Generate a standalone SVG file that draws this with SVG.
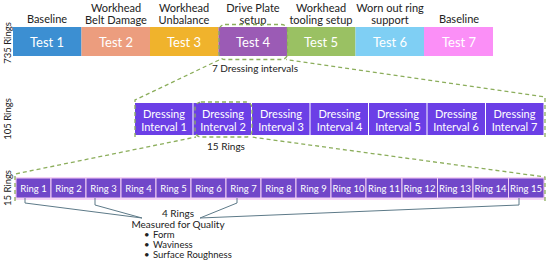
<svg xmlns="http://www.w3.org/2000/svg" width="550" height="260" viewBox="0 0 550 260">
<style>
text{font-family:Lato,"Open Sans","Liberation Sans",sans-serif;text-anchor:middle;dominant-baseline:central}
.lbl{font-size:11px;fill:#222}
.test{font-size:13px;fill:#fff}
.di rect{fill:#6b3fe6}
.di text{font-size:11px;fill:#fff}
.ring rect{fill:#7147c9;stroke:#f3d0f3;stroke-width:1}
.ring text{font-size:9.5px;fill:#fff}
.dash{fill:none;stroke:#8cae5c;stroke-width:1.3;stroke-dasharray:4 3}
.conn{fill:none;stroke:#5d7a88;stroke-width:1}
.ax{font-size:9.5px;fill:#222}
.sm{font-size:10px;fill:#222}
.bl{font-size:9.5px;fill:#222;text-anchor:start}
</style>
<g id="axis-labels">
<text class="ax" transform="translate(7,43) rotate(-90)">735 Rings</text>
<text class="ax" transform="translate(7,119) rotate(-90)">105 Rings</text>
<text class="ax" transform="translate(7,188) rotate(-90)">15 Rings</text>
</g>
<g id="test1"><rect x="13" y="27" width="68.5" height="29" fill="#3c8fd2"/><text class="test" x="47" y="41.5">Test 1</text><text class="lbl" x="47" y="18">Baseline</text></g>
<g id="test2"><rect x="81.5" y="27" width="68.5" height="29" fill="#ec9d7e"/><text class="test" x="116" y="41.5">Test 2</text><text class="lbl" x="116" y="7">Workhead</text><text class="lbl" x="116" y="19">Belt Damage</text></g>
<g id="test3"><rect x="150" y="27" width="68.5" height="29" fill="#f0b32c"/><text class="test" x="184" y="41.5">Test 3</text><text class="lbl" x="184" y="7">Workhead</text><text class="lbl" x="184" y="19">Unbalance</text></g>
<g id="test4"><rect x="218.5" y="27" width="68.5" height="29" fill="#9b5bb5"/><text class="test" x="253" y="41.5">Test 4</text><text class="lbl" x="253" y="7">Drive Plate</text><text class="lbl" x="253" y="19">setup</text></g>
<g id="test5"><rect x="287" y="27" width="68.5" height="29" fill="#9ac163"/><text class="test" x="321" y="41.5">Test 5</text><text class="lbl" x="321" y="7">Workhead</text><text class="lbl" x="321" y="19">tooling setup</text></g>
<g id="test6"><rect x="355.5" y="27" width="68.5" height="29" fill="#7fcff4"/><text class="test" x="390" y="41.5">Test 6</text><text class="lbl" x="390" y="7">Worn out ring</text><text class="lbl" x="390" y="19">support</text></g>
<g id="test7"><rect x="424" y="27" width="69" height="29" fill="#fb8ff7"/><text class="test" x="459" y="41.5">Test 7</text><text class="lbl" x="459" y="18">Baseline</text></g>
<g id="dressing" class="di">
<g id="di1"><rect x="135" y="103" width="57.5" height="32"/><text x="164" y="113">Dressing</text><text x="164" y="126">Interval 1</text></g>
<g id="di2"><rect x="193.5" y="103" width="57.5" height="32"/><text x="223" y="113">Dressing</text><text x="223" y="126">Interval 2</text></g>
<g id="di3"><rect x="252" y="103" width="57.5" height="32"/><text x="281" y="113">Dressing</text><text x="281" y="126">Interval 3</text></g>
<g id="di4"><rect x="310.5" y="103" width="57.5" height="32"/><text x="339.5" y="113">Dressing</text><text x="339.5" y="126">Interval 4</text></g>
<g id="di5"><rect x="369" y="103" width="57.5" height="32"/><text x="398" y="113">Dressing</text><text x="398" y="126">Interval 5</text></g>
<g id="di6"><rect x="427.5" y="103" width="57.5" height="32"/><text x="456" y="113">Dressing</text><text x="456" y="126">Interval 6</text></g>
<g id="di7"><rect x="486" y="103" width="57.5" height="32"/><text x="514.5" y="113">Dressing</text><text x="514.5" y="126">Interval 7</text></g>
</g>
<rect x="15" y="177" width="530" height="23" fill="#f6d6f6"/>
<g id="rings" class="ring">
<g id="r1"><rect x="16" y="178" width="35" height="20"/><text x="33.5" y="188">Ring 1</text></g>
<g id="r2"><rect x="51" y="178" width="35" height="20"/><text x="68.5" y="188">Ring 2</text></g>
<g id="r3"><rect x="86" y="178" width="35" height="20"/><text x="103.5" y="188">Ring 3</text></g>
<g id="r4"><rect x="121" y="178" width="35" height="20"/><text x="138.5" y="188">Ring 4</text></g>
<g id="r5"><rect x="156" y="178" width="35" height="20"/><text x="173.5" y="188">Ring 5</text></g>
<g id="r6"><rect x="191" y="178" width="35" height="20"/><text x="208.5" y="188">Ring 6</text></g>
<g id="r7"><rect x="226" y="178" width="35" height="20"/><text x="243.5" y="188">Ring 7</text></g>
<g id="r8"><rect x="261" y="178" width="35" height="20"/><text x="278.5" y="188">Ring 8</text></g>
<g id="r9"><rect x="296" y="178" width="35" height="20"/><text x="313.5" y="188">Ring 9</text></g>
<g id="r10"><rect x="331" y="178" width="35" height="20"/><text x="348.5" y="188">Ring 10</text></g>
<g id="r11"><rect x="366" y="178" width="36" height="20"/><text x="384" y="188">Ring 11</text></g>
<g id="r12"><rect x="402" y="178" width="35.5" height="20"/><text x="419.5" y="188">Ring 12</text></g>
<g id="r13"><rect x="437.5" y="178" width="35.5" height="20"/><text x="455" y="188">Ring 13</text></g>
<g id="r14"><rect x="473" y="178" width="35.5" height="20"/><text x="490.5" y="188">Ring 14</text></g>
<g id="r15"><rect x="508.5" y="178" width="35.5" height="20"/><text x="526" y="188">Ring 15</text></g>
</g>
<g id="connectors">
<rect class="dash" x="219" y="24.5" width="68.5" height="35" rx="6"/>
<polyline class="dash" points="135,137 135,100 220,59.5"/>
<polyline class="dash" points="545,137 545,97 286,59.5"/>
<rect class="dash" x="195" y="102" width="57" height="35" rx="6"/>
<polyline class="dash" points="15,201 15,174 196,137"/>
<polyline class="dash" points="545,201 545,177 251,137"/>
<polyline class="conn" points="25,198 25,203 142,218"/>
<polyline class="conn" points="95,198 95,205 142,218"/>
<polyline class="conn" points="237,198 237,203 200,218"/>
<polyline class="conn" points="519,198 519,205 200,218"/>
</g>
<g id="labels">
<text class="sm" x="255" y="68">7 Dressing intervals</text>
<text class="sm" x="226" y="146">15 Rings</text>
</g>
<g id="quality">
<text class="sm" x="178" y="213">4 Rings</text>
<text class="sm" x="178" y="224">Measured for Quality</text>
<text class="bl" y="234"><tspan x="144">•</tspan><tspan x="153">Form</tspan></text>
<text class="bl" y="244"><tspan x="144">•</tspan><tspan x="153">Waviness</tspan></text>
<text class="bl" y="254"><tspan x="144">•</tspan><tspan x="153">Surface Roughness</tspan></text>
</g>
</svg>
